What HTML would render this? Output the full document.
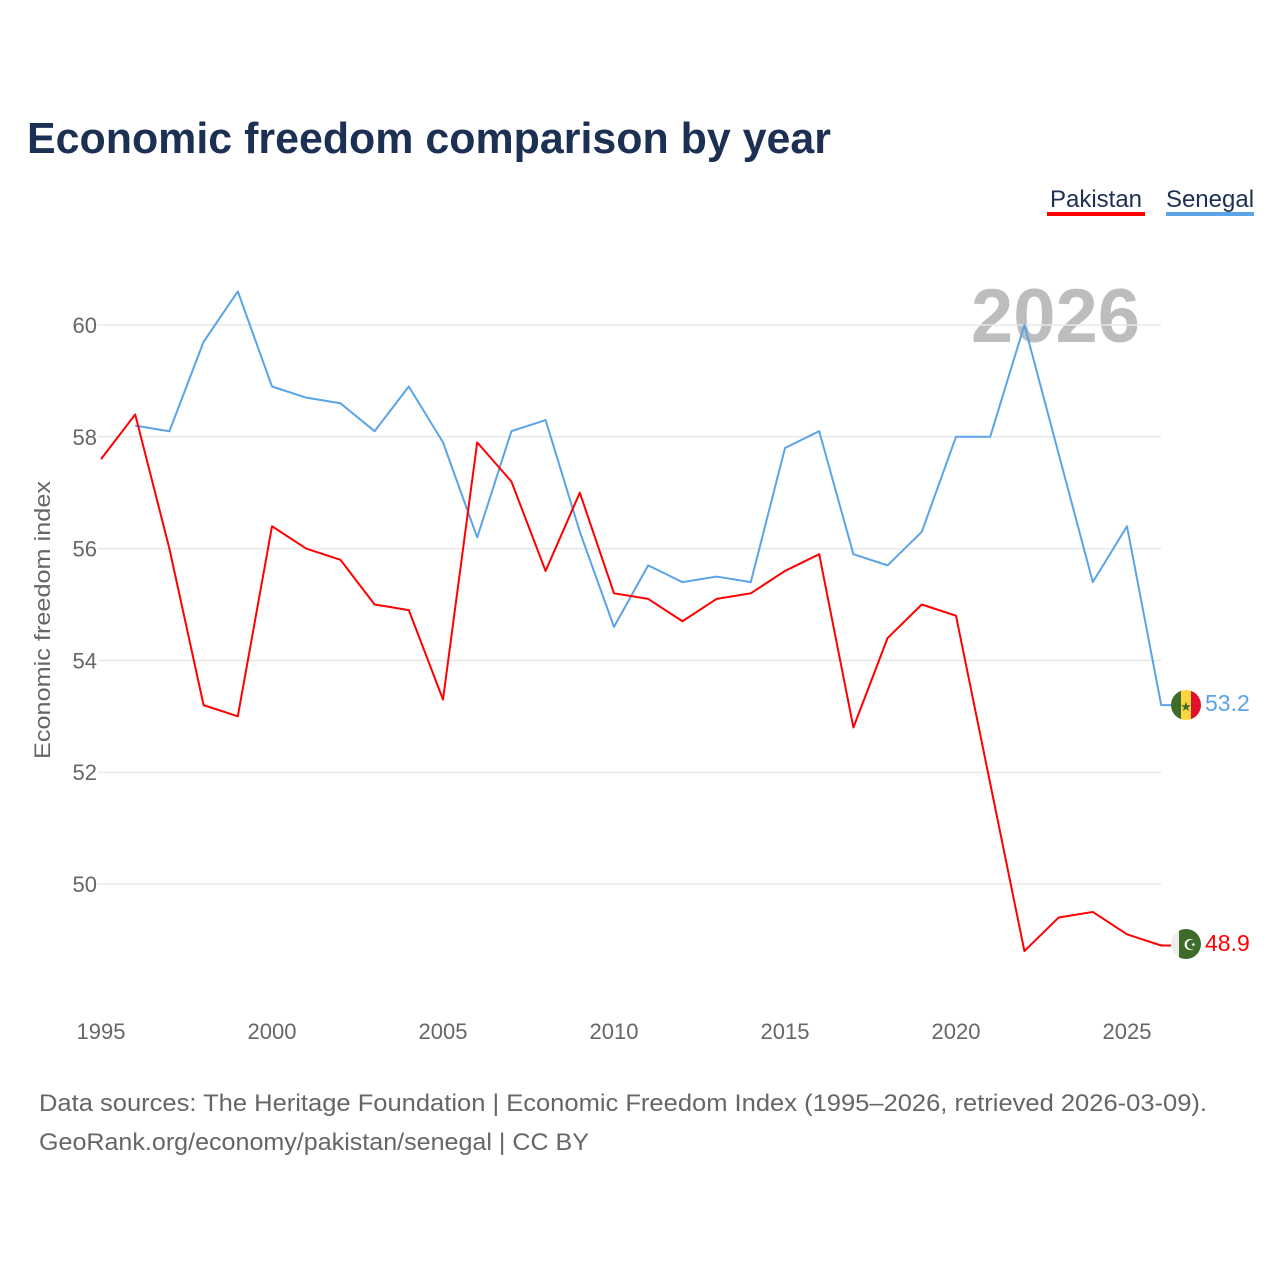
<!DOCTYPE html>
<html><head><meta charset="utf-8"><style>
body{margin:0;background:#fff;width:1280px;height:1280px;overflow:hidden;font-family:"Liberation Sans",sans-serif}
</style></head><body>
<svg id="chart" width="1280" height="1280" xmlns="http://www.w3.org/2000/svg" font-family="Liberation Sans, sans-serif">
<text x="27" y="153" font-size="44" font-weight="bold" fill="#1b3053" textLength="804" lengthAdjust="spacingAndGlyphs">Economic freedom comparison by year</text>
<g><text x="1096" y="207" font-size="24" fill="#1b3053" text-anchor="middle">Pakistan</text><rect x="1047" y="212" width="98" height="4" fill="#ff0000"/></g>
<g><text x="1210" y="207" font-size="24" fill="#1b3053" text-anchor="middle">Senegal</text><rect x="1166" y="212" width="88" height="4" fill="#5ba3e8"/></g>
<text x="1140" y="342" font-size="76" font-weight="bold" fill="#bdbdbd" text-anchor="end">2026</text>
<text transform="translate(50,620) rotate(-90)" font-size="22" fill="#666" text-anchor="middle" textLength="278" lengthAdjust="spacingAndGlyphs">Economic freedom index</text>
<g id="grid"></g><g id="yticks"></g><g id="xticks"></g><g id="lines"></g>
<g><clipPath id="c1"><circle cx="1186" cy="705" r="15"/></clipPath><g clip-path="url(#c1)"><rect x="1171" y="690" width="10" height="30" fill="#3f6b2a"/><rect x="1181" y="690" width="10" height="30" fill="#fcd63f"/><rect x="1191" y="690" width="10" height="30" fill="#e0102f"/></g><text x="1186" y="711" font-size="13" fill="#3f6b2a" text-anchor="middle">★</text></g>
<g><clipPath id="c2"><circle cx="1186" cy="944" r="15"/></clipPath><g clip-path="url(#c2)"><rect x="1171" y="929" width="8" height="30" fill="#eee"/><rect x="1179" y="929" width="22" height="30" fill="#3f6b2a"/></g><text x="1190" y="950" font-size="15" fill="#fff" text-anchor="middle">☪</text></g>
<text x="1205" y="711" font-size="23" fill="#5ba3e8">53.2</text>
<text x="1205" y="951" font-size="23" fill="#ff0000">48.9</text>
<text x="39" y="1111" font-size="24" fill="#666" textLength="1168" lengthAdjust="spacingAndGlyphs">Data sources: The Heritage Foundation | Economic Freedom Index (1995–2026, retrieved 2026-03-09).</text>
<text x="39" y="1150" font-size="24" fill="#666" textLength="550" lengthAdjust="spacingAndGlyphs">GeoRank.org/economy/pakistan/senegal | CC BY</text>
</svg>
<script>
const pakYears=[1995,1996,1997,1998,1999,2000,2001,2002,2003,2004,2005,2006,2007,2008,2009,2010,2011,2012,2013,2014,2015,2016,2017,2018,2019,2020,2021,2022,2023,2024,2025,2026];
const pakistan=[57.6,58.4,56.0,53.2,53.0,56.4,56.0,55.8,55.0,54.9,53.3,57.9,57.2,55.6,57.0,55.2,55.1,54.7,55.1,55.2,55.6,55.9,52.8,54.4,55.0,54.8,51.8,48.8,49.4,49.5,49.1,48.9];
const senYears=[1996,1997,1998,1999,2000,2001,2002,2003,2004,2005,2006,2007,2008,2009,2010,2011,2012,2013,2014,2015,2016,2017,2018,2019,2020,2021,2022,2023,2024,2025,2026];
const senegal=[58.2,58.1,59.7,60.6,58.9,58.7,58.6,58.1,58.9,57.9,56.2,58.1,58.3,56.3,54.6,55.7,55.4,55.5,55.4,57.8,58.1,55.9,55.7,56.3,58.0,58.0,60.0,57.7,55.4,56.4,53.2];
const yTicks=[50,52,54,56,58,60];
const xTicks=[1995,2000,2005,2010,2015,2020,2025];
const NS='http://www.w3.org/2000/svg';
const x=v=>101+(v-1995)*34.2;
const y=v=>884-(v-50)*55.9;
function mk(t,a,p){const e=document.createElementNS(NS,t);for(const k in a)e.setAttribute(k,a[k]);document.getElementById(p).appendChild(e);return e;}
yTicks.forEach(v=>{
 const g=mk('line',{x1:98,x2:1161,y1:y(v),y2:y(v),stroke:'#e8e8e8','stroke-width':1.5},'grid');
 
 
 const t=mk('text',{x:97,y:y(v)+8,'font-size':22,fill:'#666','text-anchor':'end'},'yticks');
 t.textContent=v;
 
 
});
xTicks.forEach(v=>{
 const t=mk('text',{x:x(v),y:1039,'font-size':22,fill:'#666','text-anchor':'middle'},'xticks');
 t.textContent=v;
 
 
});
function line(xs,vs,c,n){
 const pts=xs.map((yr,i)=>x(yr)+','+y(vs[i]));
 pts.push((x(xs[xs.length-1])+10)+','+y(vs[vs.length-1]));
 const p=mk('polyline',{points:pts.join(' '),fill:'none',stroke:c,'stroke-width':2,'stroke-linejoin':'round'},'lines');
 
 
}
line(senYears,senegal,'#5ba3e8','senegal-line');
line(pakYears,pakistan,'#ff0000','pakistan-line');
</script>
</body></html>
